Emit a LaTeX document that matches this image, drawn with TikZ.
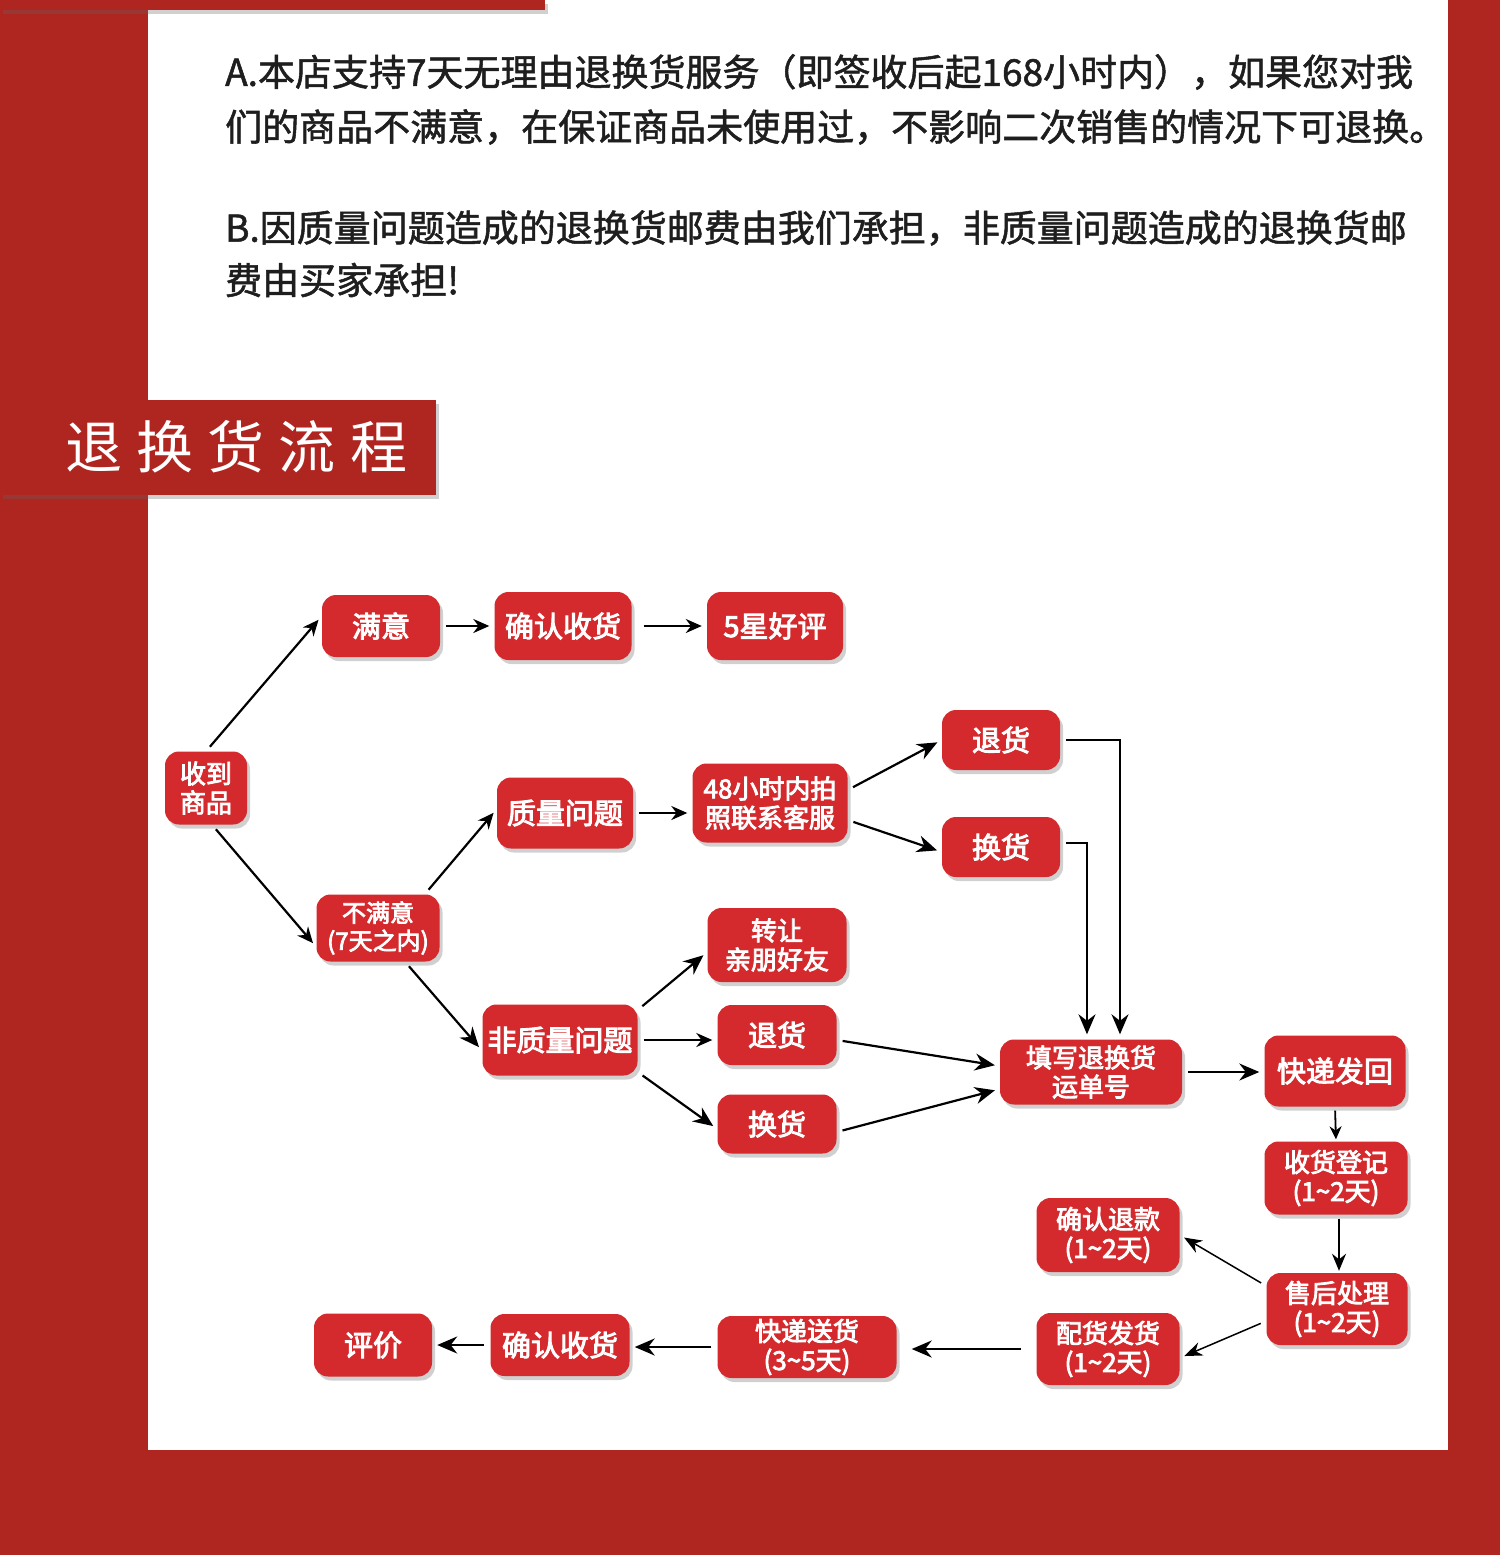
\documentclass[tikz,border=0pt]{standalone}
\usepackage{fontspec}
\usepackage{xcolor}
\usepackage{tikz}
\usetikzlibrary{arrows.meta, shadows}
\newfontfamily\cjkmed[FakeBold=1.4]{Noto Sans CJK SC}
\newfontfamily\cjkbox[FakeBold=3.2]{Noto Sans CJK SC}
\newfontfamily\titlefont[LetterSpace=25]{Noto Sans CJK SC}
\definecolor{pagered}{HTML}{AF2520}
\definecolor{boxred}{HTML}{D42A2D}
\definecolor{ink}{HTML}{1E1E1E}
\newcommand\tld{\textasciitilde}

\begin{document}
\begin{tikzpicture}[
  x=1pt, y=-1pt,
  >={Stealth[length=16pt, width=14pt]},
  shade/.style={drop shadow={shadow xshift=3pt, shadow yshift=-4pt, opacity=0.3, fill=black!60}},
  box/.style={fill=boxred, rounded corners=14pt, text=white, align=center, inner sep=0pt,
              font=\cjkbox\fontsize{29}{32}\selectfont,
              minimum width=118pt, minimum height=62pt, shade},
  twoline/.style={box, font=\cjkbox\fontsize{26}{29}\selectfont},
  banner/.style={fill=pagered, inner sep=0pt, shade},
  para/.style={anchor=west, inner sep=0pt, text=ink, font=\cjkmed\fontsize{37}{40}\selectfont},
  flow/.style={->, line width=2.2pt, shorten <=6pt, shorten >=5pt},
  bigflow/.style={flow, >={Stealth[length=20pt, width=17pt]}},
  smallflow/.style={flow, line width=1.8pt, shorten <=4pt, shorten >=2pt, >={Stealth[length=13pt, width=12pt]}},
  thinflow/.style={flow, line width=1.5pt, >={Stealth[length=18pt, width=14pt]}},
]
\useasboundingbox (0,0) rectangle (1500,1555);
% page
\fill[pagered] (0,0) rectangle (1500,1555);
\fill[white] (148,0) rectangle (1448,1450);
\node[banner, anchor=north west, minimum width=545pt, minimum height=10pt] (topbar) at (0,0) {};
% notes
\node[para] (noteA1) at (225,72)  {A.本店支持7天无理由退换货服务（即签收后起168小时内），如果您对我};
\node[para] (noteA2) at (225,127) {们的商品不满意，在保证商品未使用过，不影响二次销售的情况下可退换。};
\node[para] (noteB1) at (225,228) {B.因质量问题造成的退换货邮费由我们承担，非质量问题造成的退换货邮};
\node[para] (noteB2) at (225,280) {费由买家承担!};
% title
\node[banner, anchor=north west, minimum width=436pt, minimum height=95pt] (banner) at (0,400) {};
\node[anchor=west, inner sep=0pt, text=white, font=\titlefont\fontsize{57}{60}\selectfont]
      (title) at (65,447) {退换货流程};
% flow nodes
\node[twoline, minimum width=82pt, minimum height=73pt] (recv) at (206,788) {收到\\商品};
\node[box] (sat) at (381,626) {满意};
\node[box, minimum width=137pt, minimum height=68pt] (conf1) at (563,626) {确认收货};
\node[box, minimum width=136pt, minimum height=68pt] (star) at (775,626) {5星好评};
\node[box, minimum width=136pt, minimum height=71pt] (qual) at (565,813) {质量问题};
\node[twoline, minimum width=155pt, minimum height=79pt] (photo) at (770,803) {48小时内拍\\照联系客服};
\node[box, minimum height=60pt] (ret1) at (1001,740) {退货};
\node[box, minimum height=60pt] (exc1) at (1001,847) {换货};
\node[twoline, font=\cjkbox\fontsize{24}{28}\selectfont,
      minimum width=123pt, minimum height=67pt] (unsat) at (378,928) {不满意\\(7天之内)};
\node[twoline, minimum width=139pt, minimum height=74pt] (gift) at (777,945) {转让\\亲朋好友};
\node[box, minimum width=155pt, minimum height=71pt] (nonq) at (560,1040) {非质量问题};
\node[box, minimum width=119pt, minimum height=60pt] (ret2) at (777,1035) {退货};
\node[box, minimum width=119pt, minimum height=59pt] (exc2) at (777,1124) {换货};
\node[twoline, minimum width=182pt, minimum height=65pt] (waybill) at (1091,1072) {填写退换货\\运单号};
\node[box, minimum width=141pt, minimum height=71pt] (back) at (1335,1071) {快递发回};
\node[twoline, minimum width=143pt, minimum height=73pt] (reg) at (1336,1178) {收货登记\\(1\tld2天)};
\node[twoline, minimum width=143pt, minimum height=74pt] (refund) at (1108,1235) {确认退款\\(1\tld2天)};
\node[twoline, minimum width=141pt, minimum height=72pt] (after) at (1337,1309) {售后处理\\(1\tld2天)};
\node[twoline, minimum width=143pt, minimum height=72pt] (ship) at (1108,1349) {配货发货\\(1\tld2天)};
\node[twoline, minimum width=179pt, minimum height=62pt] (deliver) at (807,1347) {快递送货\\(3\tld5天)};
\node[box, minimum width=139pt, minimum height=62pt] (conf2) at (560,1345) {确认收货};
\node[box, minimum height=63pt] (review) at (373,1345) {评价};
% upper branches
\draw[flow] (recv.north) -- ([yshift=10pt]sat.west);
\draw[flow] ([xshift=6pt]recv.south) -- ([yshift=-19pt]unsat.west);
\draw[flow] (sat.east) -- (conf1.west);
\draw[flow, shorten <=12pt] (conf1.east) -- (star.west);
\draw[flow] ([xshift=-15pt]unsat.north east) -- ([yshift=4pt]qual.west);
\draw[bigflow] ([xshift=27pt]unsat.south) -- ([yshift=-11pt]nonq.west);
\draw[flow] (qual.east) -- (qual.east -| photo.west);
\draw[bigflow] ([yshift=13pt]photo.east) -- (ret1.west);
\draw[bigflow] ([yshift=-17pt]photo.east) -- ([yshift=-5pt]exc1.west);
% non-quality branch
\draw[bigflow] ([yshift=30pt]nonq.east) -- ([yshift=-7pt]gift.west);
\draw[flow] (nonq.east) -- (nonq.east -| ret2.west);
\draw[bigflow] ([yshift=-32pt]nonq.east) -- ([yshift=-5pt]exc2.west);
\draw[bigflow] ([yshift=-5pt]ret2.east) -- ([yshift=6pt]waybill.west);
\draw[bigflow] ([yshift=-8pt]exc2.east) -- ([yshift=-17pt]waybill.west);
\draw[bigflow] (ret1.east) -| ([xshift=29pt]waybill.north);
\draw[bigflow] ([yshift=4pt]exc1.east) -| ([xshift=-4pt]waybill.north);
% return loop
\draw[bigflow] (waybill.east) -- (waybill.east -| back.west);
\draw[smallflow] (back.south) -- (reg.north);
\draw[smallflow, >={Stealth[length=17pt, width=14pt]}] ([xshift=3pt]reg.south) -- ([xshift=2pt]after.north);
\draw[thinflow] ([yshift=23pt]after.west) -- (refund.east);
\draw[thinflow] ([yshift=-12pt]after.west) -- ([yshift=-9pt]ship.east);
\draw[bigflow, shorten <=15pt, shorten >=15pt] (ship.west) -- (ship.west -| deliver.east);
\draw[bigflow] (deliver.west) -- (deliver.west -| conf2.east);
\draw[bigflow] (conf2.west) -- (conf2.west -| review.east);
\end{tikzpicture}
\end{document}
